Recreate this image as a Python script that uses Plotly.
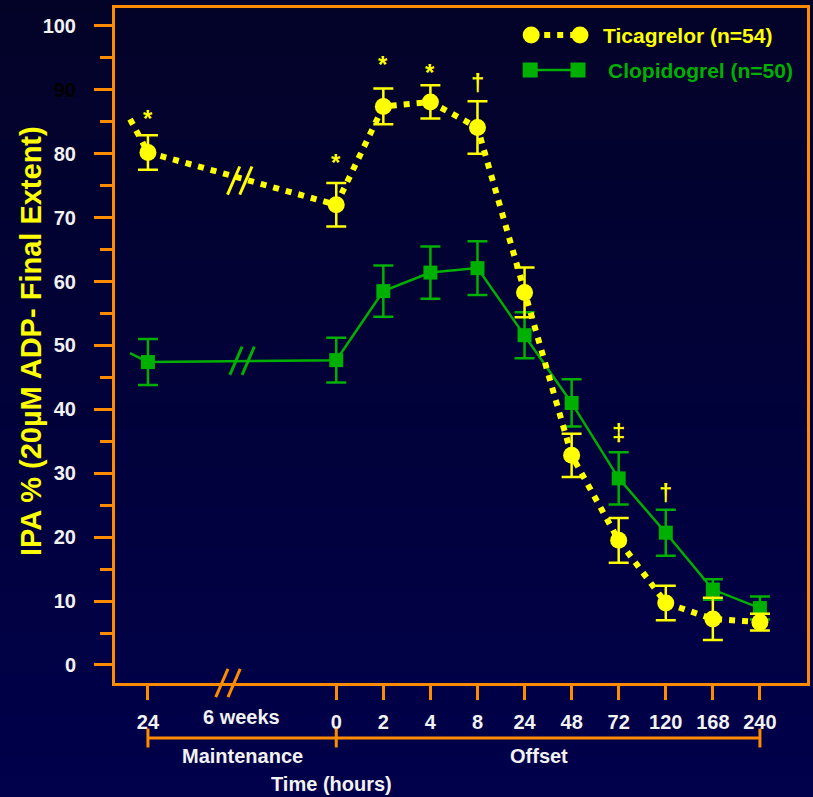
import plotly.graph_objects as go

# ---------------- data ----------------
x_pos = [0, 4, 5, 6, 7, 8, 9, 10, 11, 12, 13]          # category positions of the plotted points
tick_pos = [0, 4, 5, 6, 7, 8, 9, 10, 11, 12, 13]
tick_text = ["24", "0", "2", "4", "8", "24", "48", "72", "120", "168", "240"]
weeks_label = "6 weeks"
weeks_pos = 1.98

tica = [80.2, 72.0, 87.4, 88.1, 84.1, 58.3, 32.8, 19.5, 9.7, 7.2, 6.7]
tica_err = [2.7, 3.4, 2.8, 2.6, 4.1, 3.9, 3.4, 3.5, 2.7, 3.3, 1.3]
clop = [47.4, 47.7, 58.5, 61.4, 62.1, 51.6, 41.0, 29.2, 20.7, 11.8, 8.9]
clop_err = [3.6, 3.5, 4.0, 4.1, 4.2, 3.6, 3.7, 4.1, 3.6, 1.6, 1.8]

# lead-in segments entering from the left
lead_x = [-0.38, 0]
tica_lead = [85.4, 80.2]
clop_lead = [48.8, 47.4]

sig_x = [0, 4, 5, 6, 7, 10, 11]
sig_y = [85.5, 78.7, 93.9, 92.7, 91.1, 36.3, 27.0]
sig_txt = ["*", "*", "*", "*", "†", "‡", "†"]

YEL = "#FFFF00"
GRN = "#00B000"
ORG = "#FF8C00"
WHT = "#F2F2F2"
FONT = "Liberation Sans"
TICA_DASH = "6px,7px"

fig = go.Figure()

fig.add_trace(go.Scatter(x=lead_x, y=tica_lead, mode="lines", showlegend=False,
                         line=dict(color=YEL, width=6, dash=TICA_DASH), hoverinfo="skip"))
fig.add_trace(go.Scatter(x=lead_x, y=clop_lead, mode="lines", showlegend=False,
                         line=dict(color=GRN, width=2.5), hoverinfo="skip"))

fig.add_trace(go.Scatter(
    x=x_pos, y=clop, mode="lines+markers", name="Clopidogrel (n=50)", showlegend=False,
    line=dict(color=GRN, width=2.5),
    marker=dict(symbol="square", size=14, color=GRN),
    error_y=dict(type="data", array=clop_err, color=GRN, thickness=2.5, width=10),
))
fig.add_trace(go.Scatter(
    x=x_pos, y=tica, mode="lines+markers", name="Ticagrelor (n=54)", showlegend=False,
    line=dict(color=YEL, width=6, dash=TICA_DASH),
    marker=dict(symbol="circle", size=17, color=YEL),
    error_y=dict(type="data", array=tica_err, color=YEL, thickness=2.5, width=10),
))

# ---- custom legend on an overlay axis pair measured in pixels ----
fig.add_trace(go.Scatter(x=[533, 582], y=[35, 35], xaxis="x2", yaxis="y2", mode="lines+markers",
                         showlegend=False, hoverinfo="skip",
                         line=dict(color=YEL, width=6, dash=TICA_DASH),
                         marker=dict(symbol="circle", size=17, color=YEL)))
fig.add_trace(go.Scatter(x=[532, 580], y=[70, 70], xaxis="x2", yaxis="y2", mode="lines+markers",
                         showlegend=False, hoverinfo="skip",
                         line=dict(color=GRN, width=2.5),
                         marker=dict(symbol="square", size=15, color=GRN)))

shapes = []
# background gradient
N = 40
top_c = (3, 3, 40)
bot_c = (0, 0, 76)
for i in range(N):
    t = i / (N - 1)
    c = tuple(int(round(top_c[k] + (bot_c[k] - top_c[k]) * t)) for k in range(3))
    shapes.append(dict(type="rect", xref="paper", yref="paper", layer="below",
                       x0=-0.3, x1=1.1, y0=1.02 - (i + 1) * (1.22 / N), y1=1.02 - i * (1.22 / N) + 0.001,
                       line=dict(width=0), fillcolor="rgb(%d,%d,%d)" % c))

# break marks (//)
def brk(xc, yc, color, yref="y"):
    dx = 0.13
    out = []
    for off in (-0.13, 0.13):
        if yref == "y":
            out.append(dict(type="line", xref="x", yref="y",
                            x0=xc + off - dx, x1=xc + off + dx, y0=yc - 2.2, y1=yc + 2.2,
                            line=dict(color=color, width=3)))
        else:
            out.append(dict(type="line", xref="x", yref="paper",
                            x0=xc + off - dx, x1=xc + off + dx, y0=yc - 0.021, y1=yc + 0.021,
                            line=dict(color=color, width=3)))
    return out

shapes += brk(1.95, 75.8, YEL)
shapes += brk(2.0, 47.6, GRN)
shapes += brk(1.7, 0.0, ORG, yref="paper")

# bottom bracket
by = -0.0815
shapes.append(dict(type="line", xref="x", yref="paper", x0=0, x1=13, y0=by, y1=by,
                   line=dict(color=ORG, width=3)))
for xv in (0, 4, 13):
    shapes.append(dict(type="line", xref="x", yref="paper", x0=xv, x1=xv, y0=by + 0.014, y1=by - 0.014,
                       line=dict(color=ORG, width=3)))

annotations = []
for xv, yv, t in zip(sig_x, sig_y, sig_txt):
    annotations.append(dict(x=xv, y=yv, xref="x", yref="y", text="<b>%s</b>" % t, showarrow=False,
                            font=dict(color=YEL, size=24, family=FONT)))
annotations.append(dict(x=weeks_pos, y=-0.05, xref="x", yref="paper", text="<b>%s</b>" % weeks_label,
                        showarrow=False, font=dict(color=WHT, size=20, family=FONT), yanchor="middle"))
annotations.append(dict(x=2.0, y=-0.108, xref="x", yref="paper", text="<b>Maintenance</b>", showarrow=False,
                        font=dict(color=WHT, size=20, family=FONT), yanchor="middle"))
annotations.append(dict(x=8.3, y=-0.108, xref="x", yref="paper", text="<b>Offset</b>", showarrow=False,
                        font=dict(color=WHT, size=20, family=FONT), yanchor="middle"))
annotations.append(dict(x=3.9, y=-0.1495, xref="x", yref="paper", text="<b>Time (hours)</b>", showarrow=False,
                        font=dict(color=WHT, size=20, family=FONT), yanchor="middle"))
annotations.append(dict(x=-0.121, y=0.507, xref="paper", yref="paper",
                        text="<b>IPA % (20µM ADP- Final Extent)</b>", showarrow=False, textangle=-90,
                        font=dict(color=YEL, size=29, family=FONT), xanchor="center", yanchor="middle"))
# legend texts
annotations.append(dict(x=603, y=35, xref="x2", yref="y2", text="<b>Ticagrelor (n=54)</b>", showarrow=False,
                        xanchor="left", yanchor="middle", font=dict(color=YEL, size=21, family=FONT)))
annotations.append(dict(x=608, y=70, xref="x2", yref="y2", text="<b>Clopidogrel (n=50)</b>", showarrow=False,
                        xanchor="left", yanchor="middle", font=dict(color=GRN, size=21, family=FONT)))

ytick_vals = [0, 10, 20, 30, 40, 50, 60, 70, 80, 90, 100]
ytick_text = ["<b>%d</b>" % v if v != 90 else '<b><span style="color:#000000">90</span></b>' for v in ytick_vals]

fig.update_layout(
    width=813, height=797,
    margin=dict(l=115, r=3, t=8, b=114),
    paper_bgcolor="#02022e",
    plot_bgcolor="rgba(0,0,0,0)",
    shapes=shapes,
    annotations=annotations,
    showlegend=False,
    xaxis=dict(range=[-0.70, 14.0], tickmode="array", tickvals=tick_pos,
               ticktext=["<b>%s</b>" % t for t in tick_text],
               showgrid=False, zeroline=False, showline=True, linecolor=ORG, linewidth=3, mirror=True,
               ticks="outside", ticklen=14, tickwidth=3, tickcolor=ORG, ticklabelstandoff=5,
               tickfont=dict(color=WHT, size=20, family=FONT)),
    yaxis=dict(range=[-2.82, 102.8], tickmode="array", tickvals=ytick_vals, ticktext=ytick_text,
               showgrid=False, zeroline=False, showline=True, linecolor=ORG, linewidth=3, mirror=True,
               ticks="outside", ticklen=18, tickwidth=3, tickcolor=ORG, ticklabelstandoff=14,
               tickfont=dict(color=WHT, size=20, family=FONT),
               minor=dict(tickvals=[5, 15, 25, 35, 45, 55, 65, 75, 85, 95], ticks="outside",
                          ticklen=12, tickwidth=3, tickcolor=ORG)),
    xaxis2=dict(range=[115, 810], overlaying="x", visible=False, fixedrange=True),
    yaxis2=dict(range=[683, 8], overlaying="y", visible=False, fixedrange=True),
)

fig.write_html("out.html")
